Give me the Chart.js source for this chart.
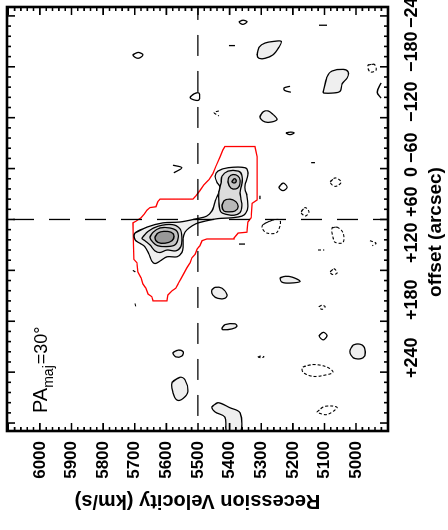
<!DOCTYPE html>
<html>
<head>
<meta charset="utf-8">
<script src="https://cdn.jsdelivr.net/npm/chart.js@4.4.1/dist/chart.umd.min.js"></script>
<style>
  html, body { margin: 0; padding: 0; background: #fff; }
  #wrap { position: relative; width: 448px; height: 530px; overflow: hidden; background: #fff; }
  #pv { position: absolute; left: 0; top: 0; transform-origin: 0 0; transform: translate(0, 530px) rotate(-90deg); }
</style>
</head>
<body>
<div id="wrap"><canvas id="pv" width="530" height="448"></canvas></div>
<script>
// axis ticks
const velocityTicks = [5000, 5100, 5200, 5300, 5400, 5500, 5600, 5700, 5800, 5900, 6000];
const offsetTicks = [-240, -180, -120, -60, 0, 60, 120, 180, 240];
const offsetTickLabels = ['+240', '+180', '+120', '+60', '0', '\u221260', '\u2212120', '\u2212180', '\u2212240'];
const systemicVelocity = 5500;

// contours: [offset (arcsec), recession velocity (km/s)]
const maskRegion = [[-86,5415],[-86,5320],[-74,5313],[-23,5313],[-19,5329],[-2,5332],[3,5342],[15,5345],[16,5373],[22,5386],[23,5472],[25,5487],[31,5494],[35,5503],[41,5509],[45,5519],[51,5525],[57,5535],[63,5544],[70,5554],[76,5563],[81,5570],[84,5582],[89,5595],[96,5598],[96,5642],[91,5646],[88,5658],[81,5665],[76,5674],[69,5680],[62,5690],[51,5693],[47,5703],[4,5706],[2,5696],[-2,5680],[-6,5671],[-11,5661],[-14,5652],[-15,5633],[-21,5627],[-24,5620],[-24,5516],[-28,5506],[-34,5494],[-41,5481],[-47,5465],[-54,5453],[-63,5443],[-74,5430],[-82,5421],[-86,5415]];

const level1 = [[16,5699],[9,5661],[4,5611],[3,5557],[-1,5503],[-4,5472],[-10,5456],[-17,5449],[-24,5443],[-32,5434],[-38,5430],[-44,5440],[-51,5446],[-57,5437],[-61,5405],[-61,5351],[-56,5342],[-48,5345],[-41,5351],[-35,5351],[-28,5345],[-15,5342],[-8,5348],[-4,5361],[-2,5392],[-1,5437],[2,5478],[5,5506],[10,5528],[15,5541],[22,5547],[32,5547],[39,5551],[44,5566],[44,5598],[49,5620],[52,5636],[49,5646],[41,5655],[32,5668],[28,5684],[24,5699],[16,5699]];

const level2North = [[-32,5434],[-43,5427],[-51,5424],[-57,5405],[-57,5372],[-52,5361],[-42,5361],[-32,5367],[-24,5364],[-16,5361],[-8,5367],[-5,5386],[-6,5410],[-9,5428],[-21,5434],[-32,5434]];
const level2South = [[22,5677],[14,5658],[8,5627],[6,5582],[11,5557],[22,5551],[32,5554],[37,5570],[36,5598],[39,5620],[37,5636],[30,5652],[25,5668],[22,5677]];
const level3North = [[-44,5405],[-50,5402],[-53,5389],[-51,5373],[-46,5367],[-39,5370],[-36,5380],[-37,5396],[-44,5405]];
const level3Middle = [[-16,5424],[-22,5418],[-24,5399],[-21,5380],[-15,5373],[-10,5383],[-9,5402],[-10,5418],[-16,5424]];
const level3South = [[21,5652],[15,5642],[10,5620],[10,5589],[14,5566],[22,5563],[30,5573],[32,5601],[31,5627],[27,5642],[21,5652]];
const level4North = [[-45,5392],[-48,5386],[-47,5380],[-44,5380],[-43,5386],[-44,5392],[-45,5392]];
const level4South = [[21,5636],[16,5627],[14,5608],[15,5585],[19,5576],[25,5582],[28,5604],[27,5627],[21,5636]];

const noiseFilled = [
  [[-194,5313],[-203,5307],[-208,5288],[-210,5259],[-210,5237],[-203,5244],[-194,5263],[-190,5288],[-190,5307],[-194,5313]],
  [[-150,5104],[-168,5092],[-175,5076],[-177,5041],[-174,5025],[-167,5028],[-160,5044],[-151,5051],[-149,5076],[-149,5101],[-150,5104]],
  [[-121,5304],[-127,5294],[-128,5278],[-124,5263],[-118,5250],[-115,5266],[-115,5288],[-121,5304]],
  [[69,5240],[67,5225],[68,5202],[73,5177],[75,5209],[74,5234],[69,5240]],
  [[83,5456],[80,5446],[81,5424],[89,5408],[93,5415],[93,5437],[89,5453],[83,5456]],
  [[128,5424],[124,5415],[123,5383],[126,5377],[129,5392],[130,5421],[128,5424]],
  [[154,5019],[148,5009],[148,4981],[156,4971],[163,4978],[164,5003],[160,5016],[154,5019]],
  [[221,5456],[216,5437],[222,5399],[228,5367],[252,5367],[252,5408],[233,5415],[227,5446],[221,5456]],
  [[192,5582],[186,5557],[189,5541],[203,5532],[211,5547],[213,5566],[204,5579],[192,5582]],
  [[157,5579],[154,5563],[156,5547],[161,5551],[162,5570],[157,5579]]
];
const noiseOpen = [
  [[-194,5706],[-197,5690],[-194,5674],[-190,5690],[-194,5706]],
  [[-144,5525],[-148,5513],[-149,5497],[-141,5497],[-141,5513],[-144,5525]],
  [[-233,5370],[-235,5358],[-233,5345],[-230,5358],[-233,5370]],
  [[-38,5244],[-43,5231],[-38,5218],[-34,5231],[-38,5244]],
  [[-102,5221],[-103,5209],[-102,5196],[-100,5209],[-102,5221]],
  [[137,5117],[133,5104],[137,5092],[142,5104],[137,5117]],
  [[-64,5579],[-61,5551],[-55,5576]],
  [[-157,5209],[-155,5228],[-152,5225],[-150,5206]],
  [[-161,4921],[-150,4933],[-143,4921]],
  [[-229,5117],[-229,5092]],
  [[-205,5402],[-205,5383]],
  [[-67,5142],[-67,5130]],
  [[29,5370],[29,5351]],
  [[-28,5304],[-24,5304]]
];
const noiseNegative = [
  [[-182,4962],[-183,4943],[-176,4937],[-174,4956],[-182,4962]],
  [[-44,5082],[-49,5066],[-44,5047],[-39,5066],[-44,5082]],
  [[-9,5174],[-14,5161],[-9,5149],[-4,5161],[-9,5174]],
  [[1,5266],[6,5294],[10,5297],[16,5282],[15,5250],[1,5240],[1,5266]],
  [[10,5076],[9,5060],[16,5041],[27,5041],[27,5066],[21,5073],[10,5076]],
  [[62,5082],[58,5070],[63,5060],[65,5073],[62,5082]],
  [[103,5117],[101,5108],[103,5098],[106,5108],[103,5117]],
  [[162,5310],[161,5301],[162,5291],[163,5301],[162,5310]],
  [[174,5168],[171,5136],[174,5092],[180,5073],[183,5092],[185,5136],[180,5168],[174,5168]],
  [[227,5123],[221,5104],[220,5073],[222,5060],[230,5092],[228,5120],[227,5123]],
  [[-128,5434],[-126,5449],[-122,5434]],
  [[25,4956],[28,4937],[31,4949]],
  [[36,5120],[36,5101]],
  [[60,5706],[63,5693]],
  [[99,5699],[104,5696]]
];

Chart.defaults.font.family = "'Liberation Sans', Arial, sans-serif";
Chart.defaults.color = '#000';

const datasets = [];
function addContour(pts, style) {
  const closed = pts.length > 3 && pts[0][0] === pts[pts.length - 1][0] && pts[0][1] === pts[pts.length - 1][1];
  // closed curves get their second point again so the spline stays smooth at the seam
  const path = closed ? pts.concat([pts[1]]) : pts;
  datasets.push(Object.assign({
    data: path.map(p => ({x: p[0], y: p[1]})),
    showLine: true,
    pointRadius: 0,
    borderColor: '#000',
    borderWidth: 1.3,
    tension: 0.35,
    fill: false,
    order: -datasets.length
  }, style));
}

const filled = c => ({backgroundColor: c, fill: 'shape'});

noiseNegative.forEach(p => addContour(p, {borderDash: [3, 2], borderWidth: 1.1}));
noiseOpen.forEach(p => addContour(p, {}));
noiseFilled.forEach(p => addContour(p, filled('#efefef')));
addContour(maskRegion, {borderColor: '#ff0000', borderWidth: 1.3, tension: 0});
addContour(level1, filled('#efefef'));
addContour(level2North, filled('#dcdcdc'));
addContour(level2South, filled('#dcdcdc'));
addContour(level3North, filled('#c4c4c4'));
addContour(level3Middle, filled('#b8b8b8'));
addContour(level3South, filled('#c4c4c4'));
addContour(level4North, filled('#999999'));
addContour(level4South, filled('#999999'));
// reference lines: systemic velocity and zero offset
addContour([[-260, systemicVelocity], [260, systemicVelocity]], {borderDash: [21, 15], tension: 0});
addContour([[0, 4880], [0, 6120]], {borderDash: [21, 15], tension: 0});

const frame = {
  id: 'frame',
  afterDraw(chart) {
    const {ctx, chartArea: a, scales: {x, y}} = chart;
    ctx.save();
    ctx.strokeStyle = '#000';
    ctx.lineWidth = 1.6;
    ctx.beginPath();
    for (let v = 4900; v <= 6100; v += 20) {
      const py = y.getPixelForValue(v);
      const len = v % 100 === 0 ? 8 : 4;
      ctx.moveTo(a.left, py); ctx.lineTo(a.left + len, py);
      ctx.moveTo(a.right, py); ctx.lineTo(a.right - len, py);
    }
    for (let o = -240; o <= 240; o += 12) {
      const px = x.getPixelForValue(o);
      const len = o % 60 === 0 ? 8 : 4;
      ctx.moveTo(px, a.top); ctx.lineTo(px, a.top + len);
      ctx.moveTo(px, a.bottom); ctx.lineTo(px, a.bottom - len);
    }
    ctx.stroke();
    ctx.lineWidth = 2.6;
    ctx.strokeRect(a.left, a.top, a.right - a.left, a.bottom - a.top);

    ctx.fillStyle = '#000';
    ctx.textBaseline = 'alphabetic';
    ctx.textAlign = 'left';
    ctx.font = "bold 18px 'Liberation Sans', Arial, sans-serif";
    const labelLeft = [152, 210, 267, 313, 353, 367, 408, 458, 502];
    offsetTickLabels.forEach((t, i) => ctx.fillText(t, labelLeft[i], 417));
    ctx.textAlign = 'center';
    ctx.font = "bold 19px 'Liberation Sans', Arial, sans-serif";
    ctx.fillText('offset (arcsec)', 298, 441);

    ctx.textAlign = 'left';
    let cx = 117;
    ctx.font = "20px 'Liberation Sans', Arial, sans-serif";
    ctx.fillText('PA', cx, 47);
    cx += ctx.measureText('PA').width;
    ctx.font = "14px 'Liberation Sans', Arial, sans-serif";
    ctx.fillText('maj', cx, 53);
    cx += ctx.measureText('maj').width + 1;
    ctx.font = "18px 'Liberation Sans', Arial, sans-serif";
    ctx.fillText('=30\u00b0', cx, 47);
    ctx.restore();
  }
};

new Chart(document.getElementById('pv'), {
  type: 'scatter',
  data: {datasets},
  options: {
    responsive: false,
    animation: false,
    events: [],
    layout: {padding: {top: 7, right: 7, left: 0, bottom: 0}},
    plugins: {legend: {display: false}, tooltip: {enabled: false}},
    scales: {
      x: {
        type: 'linear',
        reverse: true,
        min: -250.5,
        max: 249.4,
        grid: {display: false, drawTicks: false},
        border: {display: false},
        ticks: {display: false},
        afterBuildTicks: s => { s.ticks = offsetTicks.map(v => ({value: v})); },
        afterFit: s => { s.height = 60; s.paddingLeft = 0; s.paddingRight = 0; }
      },
      y: {
        type: 'linear',
        min: 4899,
        max: 6104,
        grid: {display: false, drawTicks: false},
        border: {display: false},
        ticks: {
          padding: 10,
          font: {size: 17, weight: 'bold'},
          callback: v => String(v)
        },
        afterBuildTicks: s => { s.ticks = velocityTicks.map(v => ({value: v})); },
        afterFit: s => { s.width = 99; s.paddingTop = 0; s.paddingBottom = 0; },
        title: {
          display: true,
          text: 'Recession Velocity (km/s)',
          font: {size: 20, weight: 'bold'},
          padding: {top: 17, bottom: 0}
        }
      }
    }
  },
  plugins: [frame]
});
</script>
</body>
</html>
